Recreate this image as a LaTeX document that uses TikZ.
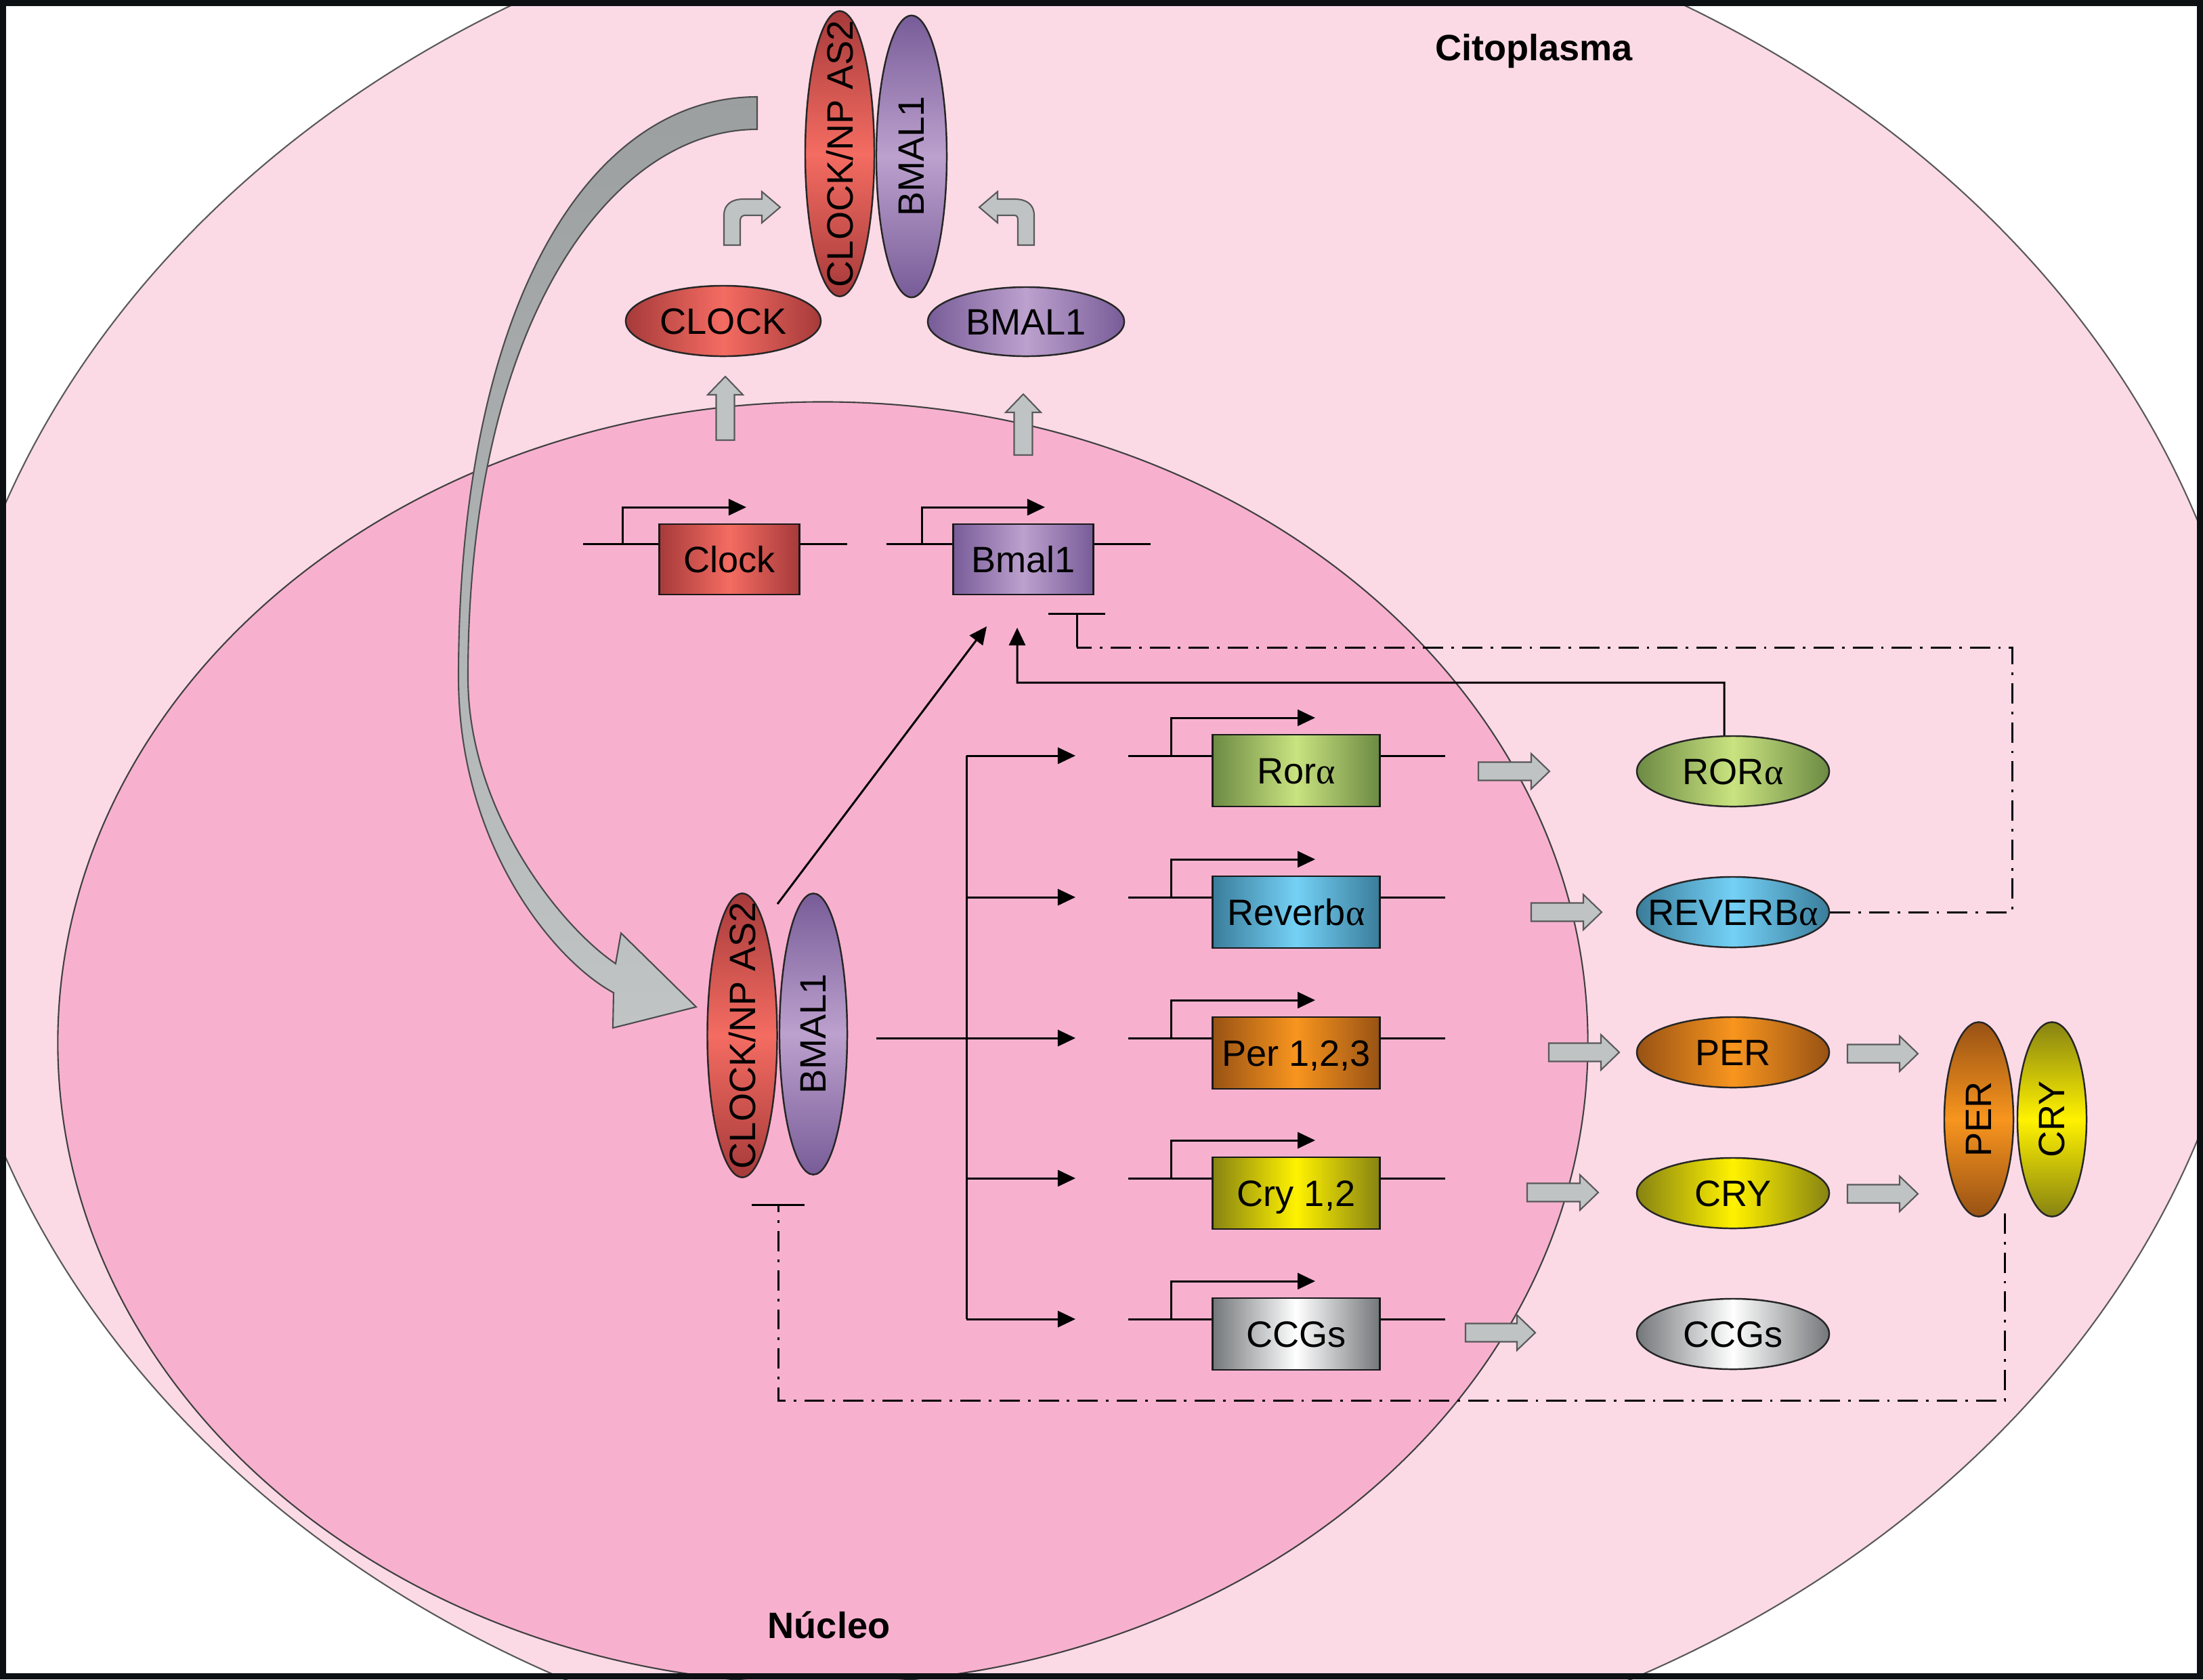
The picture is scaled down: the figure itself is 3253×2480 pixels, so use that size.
\documentclass[tikz,border=0pt]{standalone}
\usepackage{fontspec}
\setmainfont{Liberation Sans}
\newfontfamily\grk{Liberation Serif}
\usetikzlibrary{shapes.geometric, arrows.meta, calc}
\pgfdeclarelayer{cell}
\pgfdeclarelayer{bg}
\pgfsetlayers{cell,bg,main}
\newcommand\galpha{{\grk α}}
\newcommand\zb[1]{\makebox[0pt]{#1}}
\definecolor{cyto}{HTML}{FBDAE6}
\definecolor{nucl}{HTML}{F7B1CF}
\definecolor{frame}{HTML}{0D1013}
\definecolor{redE}{HTML}{A63A3A}
\definecolor{redC}{HTML}{F46C62}
\definecolor{purE}{HTML}{785C98}
\definecolor{purC}{HTML}{BCA1CE}
\definecolor{greenE}{HTML}{6C8A43}
\definecolor{greenC}{HTML}{C9E380}
\definecolor{blueE}{HTML}{3A7C9A}
\definecolor{blueC}{HTML}{74D1F6}
\definecolor{orangeE}{HTML}{985214}
\definecolor{orangeC}{HTML}{F8951E}
\definecolor{yellowE}{HTML}{878312}
\definecolor{yellowC}{HTML}{FFF200}
\definecolor{grayE}{HTML}{74777A}
\definecolor{grayC}{HTML}{FFFFFF}
\definecolor{garrfill}{HTML}{BFC3C4}
\definecolor{bigA}{HTML}{9C9FA0}
\definecolor{bigB}{HTML}{C0C4C4}
\begin{document}
\begin{tikzpicture}[x=0.01cm, y=-0.01cm,
  font=\fontsize{15.4}{18}\selectfont,
  pell/.style={ellipse, draw=black!85, line width=0.7pt, inner sep=0pt, text height=0.39cm, text depth=0pt},
  vell/.style={ellipse, draw=black!85, line width=0.7pt, inner sep=0pt, text height=0pt, text depth=0pt},
  hsh/.style 2 args={left color=#1, right color=#1, middle color=#2},
  vsh/.style 2 args={top color=#1, bottom color=#1, middle color=#2},
  gbox/.style={rectangle, draw=black!90, line width=0.8pt, inner sep=0pt, minimum width=2.47cm, minimum height=1.06cm, text height=0.39cm, text depth=0pt},
  sbox/.style={rectangle, draw=black!90, line width=0.8pt, inner sep=0pt, minimum width=2.07cm, minimum height=1.04cm, text height=0.39cm, text depth=0pt},
  thinl/.style={line width=0.85pt, black},
  arr/.style={thinl, -{Triangle[length=0.26cm,width=0.24cm]}},
  ddot/.style={line width=0.85pt, black, dash pattern=on 8.5pt off 3.4pt on 1.1pt off 3.4pt},
  garr/.style={fill=garrfill, draw=black!65, line width=0.6pt},
  lab/.style={font=\fontsize{15.4}{18}\selectfont\bfseries, inner sep=0pt},
  pics/garrow/.style={code={\draw[garr] (0,-13.5) -- (#1-27,-13.5) -- (#1-27,-26) -- (#1,0) -- (#1-27,26) -- (#1-27,13.5) -- (0,13.5) -- cycle;}}
]
\useasboundingbox (0,0) rectangle (3253,2480);

% ---------- cell background ----------
\begin{pgfonlayer}{cell}
\fill[white] (0,0) rectangle (3253,2480);
\begin{scope}
\clip (0,0) rectangle (3253,2480);
\filldraw[fill=cyto, draw=black!65, line width=0.6pt] (1621,1226) ellipse [x radius=17.15cm, y radius=14.1cm];
\filldraw[fill=nucl, draw=black!75, line width=0.6pt] (1215,1540) ellipse [x radius=11.29cm, y radius=9.46cm];
\end{scope}
\end{pgfonlayer}

% ---------- labels ----------
\node[lab] (cito) at (2265,75) {Citoplasma};
\node[lab] (nuc) at (1224,2400) {Núcleo};

% ---------- big curved arrow ----------
\path[draw=black!70, line width=0.6pt, top color=bigA, bottom color=bigB]
  (1118,143) .. controls (870,143) and (677,450) .. (677,1000)
  .. controls (677,1250) and (820,1420) .. (906,1466)
  -- (905,1518) -- (1028,1487) -- (917,1378) -- (909,1423)
  .. controls (830,1370) and (691,1200) .. (691,1000)
  .. controls (691,480) and (900,191) .. (1118,191) -- cycle;

% ---------- top complex ----------
\node[vell, vsh={redE}{redC}, minimum width=1.02cm, minimum height=4.21cm] (cnpT) at (1240,227) {\rotatebox{90}{\zb{CLOCK/NP AS2}}};
\node[vell, vsh={purE}{purC}, minimum width=1.04cm, minimum height=4.16cm] (bmT) at (1346,231) {\rotatebox{90}{\zb{BMAL1}}};

\node[pell, hsh={redE}{redC}, minimum width=2.88cm, minimum height=1.04cm] (clockP) at (1068,474) {\zb{CLOCK}};
\node[pell, hsh={purE}{purC}, minimum width=2.90cm, minimum height=1.02cm] (bmalP) at (1515,475) {\zb{BMAL1}};

% bent gray arrows
\draw[garr] (1069,362) -- (1069,318) .. controls (1069,302) and (1080,294) .. (1098,294) -- (1125,294) -- (1125,283) -- (1152,306) -- (1125,329) -- (1125,318) -- (1100,318) .. controls (1096,318) and (1093,321) .. (1093,326) -- (1093,362) -- cycle;
\draw[garr] (1527,362) -- (1527,318) .. controls (1527,302) and (1516,294) .. (1498,294) -- (1473,294) -- (1473,283) -- (1446,306) -- (1473,329) -- (1473,318) -- (1498,318) .. controls (1502,318) and (1503,321) .. (1503,326) -- (1503,362) -- cycle;

% up gray arrows
\pic[rotate=90] at (1071,650) {garrow=94};
\pic[rotate=90] at (1511,672) {garrow=90};

% ---------- Clock / Bmal1 genes ----------
\node[sbox, hsh={redE}{redC}] (clockG) at (1077,826) {Clock};
\node[sbox, hsh={purE}{purC}] (bmalG) at (1511,826) {Bmal1};
\begin{pgfonlayer}{bg}
\draw[thinl] (861,803) -- (1251,803);
\draw[thinl] (1309,803) -- (1699,803);
\end{pgfonlayer}
\draw[arr] (919,803) -- (919,749) -- (1102,749);
\draw[arr] (1361,803) -- (1361,749) -- (1543,749);

% ---------- lower complex ----------
\node[vell, vsh={redE}{redC}, minimum width=1.03cm, minimum height=4.19cm] (cnpB) at (1096,1529) {\rotatebox{90}{\zb{CLOCK/NP AS2}}};
\node[vell, vsh={purE}{purC}, minimum width=1.00cm, minimum height=4.15cm] (bmB) at (1201,1527) {\rotatebox{90}{\zb{BMAL1}}};

\coordinate (tipA) at (1457,925);
\coordinate (tipB) at (1502,927);
\draw[arr] ([shift={(52,-194)}]cnpB.center) -- (tipA);

% bus and branches
\draw[thinl] ([shift={(42,6)}]bmB.east) -- (1427,1533);
\draw[thinl] (1427,1116) -- (1427,1948);
\foreach \yy in {1116,1325,1533,1740,1948} {
  \draw[arr] (1427,\yy) -- (1588,\yy);
}

% ---------- rows of genes ----------
\begin{pgfonlayer}{bg}
\foreach \cy in {1138,1347,1555,1762,1970} {
  \draw[thinl] (1666,\cy-22) -- (2134,\cy-22);
}
\end{pgfonlayer}
\foreach \cy in {1138,1347,1555,1762,1970} {
  \draw[arr] (1729,\cy-22) -- (1729,\cy-78) -- (1942,\cy-78);
}
\node[gbox, hsh={greenE}{greenC}] (rorG) at (1914,1138) {Ror\galpha};
\node[gbox, hsh={blueE}{blueC}] (revG) at (1914,1347) {Reverb\galpha};
\node[gbox, hsh={orangeE}{orangeC}] (perG) at (1914,1555) {Per 1,2,3};
\node[gbox, hsh={yellowE}{yellowC}] (cryG) at (1914,1762) {Cry 1,2};
\node[gbox, hsh={grayE}{grayC}] (ccgG) at (1914,1970) {CCGs};

% gray arrows gene -> protein
\pic at (2183,1139) {garrow=105};
\pic at (2261,1347) {garrow=104};
\pic at (2287,1554) {garrow=104};
\pic at (2255,1761) {garrow=105};
\pic at (2164,1968) {garrow=103};

% proteins
\node[pell, hsh={greenE}{greenC}, minimum width=2.84cm, minimum height=1.04cm] (rorP) at (2559,1139) {\zb{ROR\galpha}};
\node[pell, hsh={blueE}{blueC}, minimum width=2.84cm, minimum height=1.04cm] (revP) at (2559,1347) {\zb{REVERB\galpha}};
\node[pell, hsh={orangeE}{orangeC}, minimum width=2.84cm, minimum height=1.04cm] (perP) at (2559,1554) {\zb{PER}};
\node[pell, hsh={yellowE}{yellowC}, minimum width=2.84cm, minimum height=1.04cm] (cryP) at (2559,1762) {\zb{CRY}};
\node[pell, hsh={grayE}{grayC}, minimum width=2.84cm, minimum height=1.04cm] (ccgP) at (2559,1970) {\zb{CCGs}};

% arrows protein -> complex
\pic at (2728,1556) {garrow=104};
\pic at (2728,1763) {garrow=104};

% PER/CRY complex
\node[vell, vsh={orangeE}{orangeC}, minimum width=1.02cm, minimum height=2.87cm] (perV) at (2922,1653) {\rotatebox{90}{\zb{PER}}};
\node[vell, vsh={yellowE}{yellowC}, minimum width=1.02cm, minimum height=2.87cm] (cryV) at (3030,1653) {\rotatebox{90}{\zb{CRY}}};

% ---------- regulatory connectors ----------
\draw[arr] ([xshift=-0.13cm]rorP.north) -- (2546,1008) -- (1502,1008) -- (tipB);

\coordinate (revT) at (1590,956);
\draw[ddot] (revP.east) -- (2971,1347) -- (2971,956) -- (revT);
\draw[thinl, -{Bar[width=0.83cm]}] (revT) -- (1590,905);

\coordinate (pcB) at (2960,1792);
\draw[ddot, -{Bar[width=0.78cm, line width=0.85pt]}] (pcB) -- (2960,2068) -- (1149,2068) -- (1149,1778);

% ---------- frame ----------
\draw[frame, line width=0.09cm] (4.5,4.5) rectangle (3248.5,2475.5);
\end{tikzpicture}
\end{document}
